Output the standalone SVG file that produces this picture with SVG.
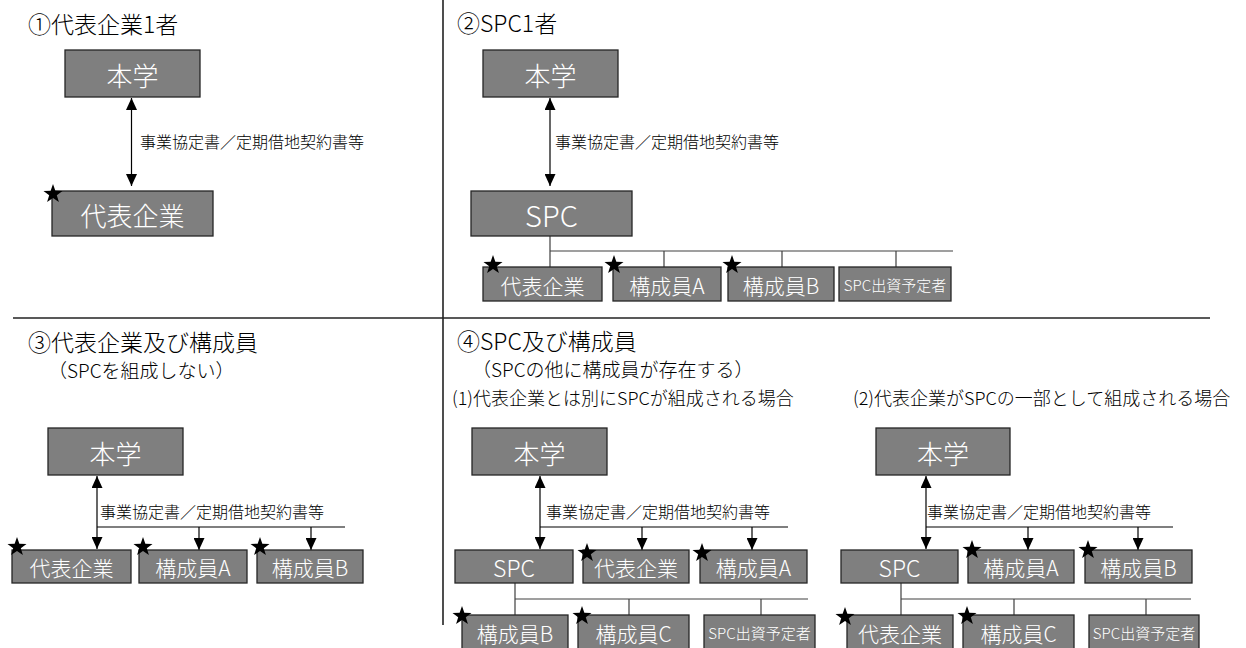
<svg xmlns="http://www.w3.org/2000/svg" width="1246" height="648" viewBox="0 0 1246 648">
<style>
text{font-family:"Noto Sans CJK JP","Noto Sans",sans-serif;font-weight:300;}
.box{fill:#7f7f7f;stroke:#262626;stroke-width:1.3;}
.bt{fill:#fff;text-anchor:middle;dominant-baseline:central;}
.big{font-size:26px;}
.spcb{font-size:29px;}
.sm{font-size:21px;}
.spcs{font-size:23px;}
.tiny{font-size:15px;}
.title{font-size:23px;fill:#000;}
.sub{font-size:19px;fill:#000;}
.case{font-size:18px;fill:#000;}
.lab{font-size:16px;fill:#000;}
.ln{stroke:#000;stroke-width:1.2;fill:none;}
.tk{stroke:#404040;stroke-width:1.2;fill:none;}
.div{stroke:#222;stroke-width:1.6;fill:none;}
.arr{stroke:#000;stroke-width:1.2;fill:none;marker-end:url(#ah);}
.darr{stroke:#000;stroke-width:1.2;fill:none;marker-start:url(#ah);marker-end:url(#ah);}
</style>
<defs>
<marker id="ah" markerUnits="userSpaceOnUse" markerWidth="12" markerHeight="11" refX="12" refY="5.5" orient="auto-start-reverse"><path d="M0,0 L12,5.5 L0,11 z" fill="#000"/></marker>
<polygon id="star" points="0,-10 2.35,-3.2 9.5,-3.1 3.8,1.2 5.9,8.1 0,4 -5.9,8.1 -3.8,1.2 -9.5,-3.1 -2.35,-3.2" fill="#000"/>
</defs>
<rect width="1246" height="648" fill="#fff"/>
<g id="dividers">
<line class="div" x1="443" y1="0" x2="443" y2="625"/>
<line class="div" x1="13" y1="318" x2="1210" y2="318"/>
</g>
<g id="titles">
<text class="title" x="28" y="33">①代表企業1者</text>
<text class="title" x="457" y="32">②SPC1者</text>
<text class="title" x="28" y="351">③代表企業及び構成員</text>
<text class="sub" x="48" y="378">（SPCを組成しない）</text>
<text class="title" x="457" y="350">④SPC及び構成員</text>
<text class="sub" x="472" y="377">（SPCの他に構成員が存在する）</text>
<text class="case" x="452" y="405">(1)代表企業とは別にSPCが組成される場合</text>
<text class="case" x="853" y="405">(2)代表企業がSPCの一部として組成される場合</text>
</g>
<g id="connectors">
<line class="darr" x1="131.5" y1="98" x2="131.5" y2="186"/>
<text class="lab" x="140" y="148">事業協定書／定期借地契約書等</text>
<line class="darr" x1="550" y1="98" x2="550" y2="186"/>
<text class="lab" x="555" y="148">事業協定書／定期借地契約書等</text>
<path class="tk" d="M550,236 V267 M550,251 H953 M664,251 V267 M782,251 V267 M896,251 V267"/>
<line class="darr" x1="97" y1="476" x2="97" y2="549"/>
<text class="lab" x="100" y="518">事業協定書／定期借地契約書等</text>
<line class="ln" x1="97" y1="527" x2="345" y2="527"/>
<line class="arr" x1="199" y1="527" x2="199" y2="550"/>
<line class="arr" x1="311" y1="527" x2="311" y2="550"/>
<line class="darr" x1="540" y1="476" x2="540" y2="549"/>
<text class="lab" x="546" y="518">事業協定書／定期借地契約書等</text>
<line class="ln" x1="540" y1="527" x2="788" y2="527"/>
<line class="arr" x1="642" y1="527" x2="642" y2="550"/>
<line class="arr" x1="752" y1="527" x2="752" y2="550"/>
<path class="tk" d="M515,583 V615 M515,599 H808 M629,599 V615 M761,599 V615"/>
<line class="darr" x1="926" y1="476" x2="926" y2="549"/>
<text class="lab" x="927" y="518">事業協定書／定期借地契約書等</text>
<line class="ln" x1="926" y1="527" x2="1173" y2="527"/>
<line class="arr" x1="1028" y1="527" x2="1028" y2="550"/>
<line class="arr" x1="1138" y1="527" x2="1138" y2="550"/>
<path class="tk" d="M901,583 V615 M901,599 H1191 M1014,599 V615 M1146,599 V615"/>
</g>
<g id="q1-honbu"><rect class="box" x="65" y="50" width="135" height="47"/><text class="bt big" x="132.5" y="74">本学</text></g>
<g id="q1-daihyo"><rect class="box" x="52" y="191" width="161" height="45"/><text class="bt big" x="132.5" y="214">代表企業</text><use href="#star" x="53" y="194"/></g>
<g id="q2-honbu"><rect class="box" x="483" y="50" width="135" height="47"/><text class="bt big" x="550.5" y="74">本学</text></g>
<g id="q2-spc"><rect class="box" x="471" y="191" width="161" height="45"/><text class="bt spcb" x="551.5" y="214">SPC</text></g>
<g id="q2-daihyo"><rect class="box" x="483" y="267" width="119" height="34"/><text class="bt sm" x="542.5" y="284.5">代表企業</text><use href="#star" x="493" y="265"/></g>
<g id="q2-memA"><rect class="box" x="613" y="267" width="108" height="34"/><text class="bt sm" x="667" y="284.5">構成員A</text><use href="#star" x="614" y="265"/></g>
<g id="q2-memB"><rect class="box" x="728" y="267" width="106" height="34"/><text class="bt sm" x="781" y="284.5">構成員B</text><use href="#star" x="732" y="265"/></g>
<g id="q2-inv"><rect class="box" x="839" y="267" width="112" height="34"/><text class="bt tiny" x="895" y="284.5">SPC出資予定者</text></g>
<g id="q3-honbu"><rect class="box" x="48" y="428" width="135" height="47"/><text class="bt big" x="115.5" y="452">本学</text></g>
<g id="q3-daihyo"><rect class="box" x="12" y="550" width="119" height="33"/><text class="bt sm" x="71.5" y="567">代表企業</text><use href="#star" x="17" y="547"/></g>
<g id="q3-memA"><rect class="box" x="139" y="550" width="108" height="33"/><text class="bt sm" x="193" y="567">構成員A</text><use href="#star" x="143" y="547"/></g>
<g id="q3-memB"><rect class="box" x="257" y="550" width="106" height="33"/><text class="bt sm" x="310" y="567">構成員B</text><use href="#star" x="260" y="547"/></g>
<g id="q4a-honbu"><rect class="box" x="472" y="428" width="135" height="47"/><text class="bt big" x="539.5" y="452">本学</text></g>
<g id="q4a-spc"><rect class="box" x="455" y="550" width="118" height="33"/><text class="bt spcs" x="514" y="567">SPC</text></g>
<g id="q4a-daihyo"><rect class="box" x="583" y="550" width="106" height="33"/><text class="bt sm" x="636" y="567">代表企業</text><use href="#star" x="587" y="553"/></g>
<g id="q4a-memA"><rect class="box" x="700" y="550" width="107" height="33"/><text class="bt sm" x="753.5" y="567">構成員A</text><use href="#star" x="702" y="553"/></g>
<g id="q4a-memB"><rect class="box" x="462" y="615" width="106" height="34"/><text class="bt sm" x="515" y="632.5">構成員B</text><use href="#star" x="462" y="616"/></g>
<g id="q4a-memC"><rect class="box" x="578" y="615" width="111" height="34"/><text class="bt sm" x="633.5" y="632.5">構成員C</text><use href="#star" x="582" y="616"/></g>
<g id="q4a-inv"><rect class="box" x="704" y="615" width="111" height="34"/><text class="bt tiny" x="759.5" y="632.5">SPC出資予定者</text></g>
<g id="q4b-honbu"><rect class="box" x="876" y="428" width="134" height="47"/><text class="bt big" x="943" y="452">本学</text></g>
<g id="q4b-spc"><rect class="box" x="841" y="550" width="117" height="33"/><text class="bt spcs" x="899.5" y="567">SPC</text></g>
<g id="q4b-memA"><rect class="box" x="968" y="550" width="106" height="33"/><text class="bt sm" x="1021" y="567">構成員A</text><use href="#star" x="972" y="550"/></g>
<g id="q4b-memB"><rect class="box" x="1085" y="550" width="107" height="33"/><text class="bt sm" x="1138.5" y="567">構成員B</text><use href="#star" x="1088" y="550"/></g>
<g id="q4b-daihyo"><rect class="box" x="847" y="615" width="106" height="34"/><text class="bt sm" x="900" y="632.5">代表企業</text><use href="#star" x="845" y="617"/></g>
<g id="q4b-memC"><rect class="box" x="963" y="615" width="111" height="34"/><text class="bt sm" x="1018.5" y="632.5">構成員C</text><use href="#star" x="967" y="616"/></g>
<g id="q4b-inv"><rect class="box" x="1089" y="615" width="110" height="34"/><text class="bt tiny" x="1144" y="632.5">SPC出資予定者</text></g>
</svg>
